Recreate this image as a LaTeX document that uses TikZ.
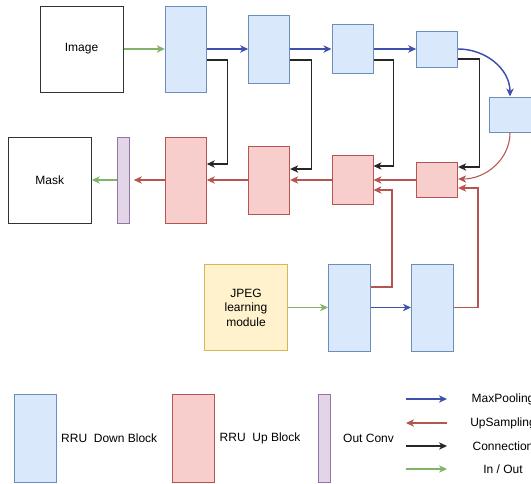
\documentclass[tikz,border=0pt]{standalone}
\usepackage{fontspec}
\setmainfont{Liberation Sans}
\usepackage{tikz}
\usetikzlibrary{arrows.meta,positioning,calc}
\definecolor{DBFill}{HTML}{DAE8FC}
\definecolor{DBLine}{HTML}{6C8EBF}
\definecolor{UBFill}{HTML}{F8CECC}
\definecolor{UBLine}{HTML}{B85450}
\definecolor{OCFill}{HTML}{E1D5E7}
\definecolor{OCLine}{HTML}{9673A6}
\definecolor{JPFill}{HTML}{FFF2CC}
\definecolor{JPLine}{HTML}{D6B656}
\definecolor{PoolBlue}{HTML}{3F4FAE}
\definecolor{IOGreen}{HTML}{82B366}

\begin{document}
\begin{tikzpicture}[
  x=0.75pt,y=-0.75pt,
  node distance=31pt,
  font=\fontsize{9}{10.9}\selectfont,
  blk/.style={draw,line width=0.75pt,minimum width=30.75pt,inner sep=0pt},
  dblock/.style={blk,draw=DBLine,fill=DBFill},
  ublock/.style={blk,draw=UBLine,fill=UBFill},
  ocblock/.style={blk,draw=OCLine,fill=OCFill,minimum width=9pt,minimum height=64.5pt},
  plain/.style={draw=black!80,line width=0.75pt,minimum width=62.25pt,minimum height=64.5pt,align=center},
  jpeg/.style={plain,draw=JPLine,fill=JPFill},
  arrtip/.style={-{Stealth[length=6pt,width=5.5pt,inset=1.8pt]}},
  pool/.style={arrtip,line width=1.1pt,draw=PoolBlue},
  upsmp/.style={arrtip,line width=0.8pt,draw=UBLine},
  conn/.style={arrtip,line width=0.8pt,draw=black!85},
  io/.style={arrtip,line width=0.8pt,draw=IOGreen}
]
\useasboundingbox (0,0) rectangle (531,483);

% encoder row
\node[plain] (image) at (81.5,49) {Image};
\node[dblock,minimum height=64.5pt,right=of image] (down1) {};
\node[dblock,minimum height=51pt,right=of down1] (down2) {};
\node[dblock,minimum height=36.75pt,right=of down2] (down3) {};
\node[dblock,minimum height=27pt,right=32pt of down3] (down4) {};
\node[dblock,minimum width=31.5pt,minimum height=26.25pt] (down5) at (510,114.5) {};

% decoder row
\node[ublock,minimum height=64.5pt,below=33pt of down1] (up1) {};
\node[ublock,minimum height=51pt,right=of up1] (up2) {};
\node[ublock,minimum height=36.75pt,right=of up2] (up3) {};
\node[ublock,minimum height=26.25pt,right=32pt of up3] (up4) {};
\node[ocblock,left=26.25pt of up1] (outconv) {};
\node[plain,left=18.75pt of outconv] (mask) {Mask};

% jpeg branch
\node[jpeg] (jpeg) at (246,307.5) {JPEG\\learning\\module};
\node[dblock,minimum width=31.5pt,minimum height=65.25pt,right=30pt of jpeg] (bot1) {};
\node[dblock,minimum width=31.5pt,minimum height=65.25pt,right=30pt of bot1] (bot2) {};

\draw[io] (image) -- (down1);
\draw[pool] (down1) -- (down2);
\draw[pool] (down2) -- (down3);
\draw[pool] (down3) -- (down4);
\draw[pool] (down4.east) to[out=0,in=90] (down5.north);
\draw[upsmp] (down5.south) to[out=-90,in=0] ($(up4.east)+(0,-1)$);
\draw[upsmp] (up4) -- (up3);
\draw[upsmp] (up3) -- (up2);
\draw[upsmp] (up2) -- (up1);
\draw[upsmp,shorten >=3pt] (up1) -- (outconv);
\draw[io] (outconv) -- (mask);

\draw[conn] ($(down1.east)+(0,11)$) -- ++(21,0) |- ($(up1.east)+(0,-16)$);
\draw[conn] ($(down2.east)+(0,11)$) -- ++(21,0) |- ($(up2.east)+(0,-11)$);
\draw[conn] ($(down3.east)+(0,11)$) -- ++(20,0) |- ($(up3.east)+(0,-14)$);
\draw[conn] ($(down4.east)+(0,10)$) -- ++(21,0) |- ($(up4.east)+(0,-13)$);

\draw[io] (jpeg) -- (bot1);
\draw[pool] (bot1) -- (bot2);
\draw[upsmp] ($(bot1.east)+(0,-20.5)$) -- ++(21,0) |- ($(up3.east)+(0,10)$);
\draw[upsmp] (bot2.east) -- ++(24,0) |- ($(up4.east)+(0,8)$);

% legend
\node[dblock,minimum width=31.5pt,minimum height=66pt] (legdown) at (35,438) {};
\node[right=0pt of legdown] (legdowntxt) {RRU~ Down Block};
\node[ublock,minimum width=31.5pt,minimum height=66pt] (legup) at (193.5,438) {};
\node[right=0pt of legup] (leguptxt) {RRU~ Up Block};
\node[ocblock,minimum height=66pt] (legout) at (324,438) {};
\node[right=6pt of legout] (legouttxt) {Out Conv};

\coordinate (lpa) at (406,399); \coordinate (lpb) at (447,399);
\coordinate (lua) at (406,423); \coordinate (lub) at (447,423);
\coordinate (lca) at (406,446); \coordinate (lcb) at (447,446);
\coordinate (lia) at (406,469); \coordinate (lib) at (447,469);
\draw[pool] (lpa) -- (lpb);
\draw[upsmp] (lub) -- (lua);
\draw[conn] (lca) -- (lcb);
\draw[io] (lia) -- (lib);
\node (legpool) at (503,399) {MaxPooling};
\node (legups) at (503,423) {UpSampling};
\node (legconn) at (503,446) {Connection};
\node (legio) at (503,469) {In / Out};
\end{tikzpicture}
\end{document}
